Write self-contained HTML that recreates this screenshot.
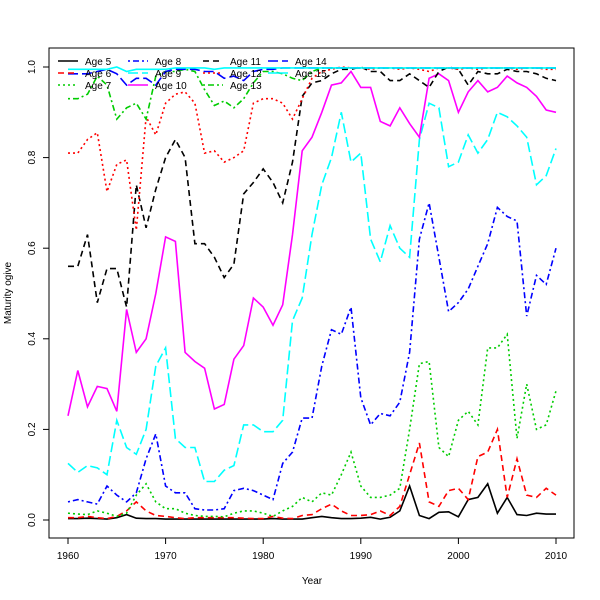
<!DOCTYPE html>
<html><head><meta charset="utf-8"><style>
body{margin:0;background:#fff}
svg{display:block;font-family:"Liberation Sans",sans-serif}
</style></head><body>
<svg id="chart" width="600" height="600">
<rect width="600" height="600" fill="#fff"/>
<g id="grid"></g>
<g id="series"></g>
<rect x="49" y="48" width="525" height="490" fill="none" stroke="#000"/>
<g id="axes"></g>
<g id="legend"></g>
<text x="312" y="584" font-size="10" text-anchor="middle">Year</text>
<text x="11" y="293" font-size="10" text-anchor="middle" transform="rotate(-90 11 293)">Maturity ogive</text>
</svg>
<script>
const years = [];
for (let y = 1960; y <= 2010; y++) years.push(y);
const xTicks = [1960,1970,1980,1990,2000,2010];
const yTicks = [0,0.2,0.4,0.6,0.8,1.0];
const yTickLabels = ["0.0","0.2","0.4","0.6","0.8","1.0"];
const seriesNames = ["Age 5","Age 6","Age 7","Age 8","Age 9","Age 10","Age 11","Age 12","Age 13","Age 14","Age 15"];
const age5 = [.003,.003,.004,.003,.002,.005,.012,.004,.003,.003,.002,.002,.002,.002,.002,.002,.002,.002,.002,.002,.002,.003,.002,.002,.002,.005,.008,.005,.003,.003,.004,.006,.002,.006,.02,.075,.01,.003,.017,.018,.007,.045,.05,.08,.015,.05,.012,.01,.015,.013,.013];
const age6 = [.005,.005,.008,.005,.003,.008,.02,.04,.02,.01,.008,.005,.003,.005,.005,.005,.005,.005,.004,.003,.003,.008,.004,.003,.01,.012,.025,.035,.02,.01,.01,.012,.02,.01,.03,.1,.17,.04,.03,.065,.07,.045,.14,.15,.2,.05,.135,.055,.05,.07,.055];
const age7 = [.015,.013,.012,.02,.015,.008,.015,.055,.08,.04,.025,.025,.015,.01,.008,.008,.007,.015,.02,.02,.015,.008,.02,.03,.05,.04,.06,.055,.1,.15,.075,.05,.05,.055,.07,.2,.345,.35,.16,.14,.22,.24,.21,.38,.38,.41,.18,.3,.2,.21,.285];
const age8 = [.04,.045,.04,.035,.075,.055,.04,.06,.135,.19,.075,.06,.06,.025,.022,.022,.025,.065,.07,.065,.055,.045,.125,.15,.225,.225,.34,.42,.41,.47,.27,.21,.235,.23,.26,.37,.62,.7,.58,.46,.48,.51,.56,.61,.69,.67,.66,.45,.54,.52,.6];
const age9 = [.125,.105,.12,.115,.1,.22,.16,.145,.2,.34,.38,.18,.16,.16,.085,.085,.11,.12,.21,.21,.195,.195,.22,.44,.49,.63,.74,.8,.9,.79,.81,.62,.57,.65,.6,.58,.84,.92,.91,.78,.79,.85,.81,.84,.9,.89,.87,.845,.74,.76,.82];
const age10 = [.23,.33,.25,.295,.29,.24,.465,.37,.4,.5,.625,.615,.37,.35,.335,.245,.255,.355,.385,.49,.47,.43,.475,.63,.815,.845,.9,.96,.965,.99,.955,.955,.88,.87,.91,.875,.845,.975,.985,.97,.9,.945,.97,.945,.955,.98,.965,.955,.935,.905,.9];
const age11 = [.56,.56,.63,.48,.555,.555,.47,.74,.645,.73,.8,.84,.8,.61,.61,.58,.535,.565,.72,.745,.775,.745,.7,.79,.935,.965,.97,.985,.995,.995,1,.99,.99,.97,.97,.985,.97,.955,.99,1,.995,.96,.99,.985,.985,.995,.99,.99,.985,.975,.97];
const age12 = [.81,.81,.84,.855,.725,.785,.795,.64,.89,.85,.92,.94,.945,.92,.81,.815,.79,.8,.815,.92,.93,.93,.92,.885,.93,.975,.99,.995,1,.998,.998,.995,.998,.998,.995,.998,.995,.99,.998,.998,.995,.998,.995,.998,.998,.998,.995,.998,.998,.995,.995];
const age13 = [.93,.93,.94,.98,.96,.885,.91,.92,.885,.98,.99,.99,.995,.99,.95,.915,.925,.91,.93,.965,.99,.99,.985,.975,.97,.99,.998,.998,.998,.998,.998,.998,.998,.998,.998,.998,.998,.998,.998,.998,.998,.998,.998,.998,.998,.998,.998,.998,.998,.998,.998];
const age14 = [.985,.985,.985,.99,.995,.985,.96,.975,.975,.96,.99,.995,.995,.995,.99,.99,.975,.98,.97,.99,.995,.995,.998,.998,.998,.998,.998,.998,.998,.998,.998,.998,.998,.998,.998,.998,.998,.998,.998,.998,.998,.998,.998,.998,.998,.998,.998,.998,.998,.998,.998];
const age15 = [.995,.995,.995,.995,.995,1,.99,.995,.995,.995,.995,.998,.998,.998,.998,.995,.998,.998,.998,.998,.998,.998,.998,.998,.998,.998,.998,.998,.998,.998,.998,.998,.998,.998,.998,.998,.998,.998,.998,.998,.998,.998,.998,.998,.998,.998,.998,.998,.998,.998,.998];
const allSeries = [age5,age6,age7,age8,age9,age10,age11,age12,age13,age14,age15];
const colors = ["#000","#f00","#0c0","#00f","#0ff","#f0f","#000","#f00","#0c0","#00f","#0ff"];
const dashes = ["none","6,4","2,3","2,3,6,3","10,4","none","6,4","2,3","2,3,6,3","10,4","none"];

const NS = "http://www.w3.org/2000/svg";
const xS = v => 68 + (v - 1960) * (488 / 50);
const yS = v => 520 - v * 453;

const sg = document.getElementById('series');
allSeries.forEach((s, i) => {
  const p = document.createElementNS(NS, 'polyline');
  p.setAttribute('points', s.map((v, j) => xS(years[j]).toFixed(1) + ',' + yS(v).toFixed(1)).join(' '));
  p.setAttribute('fill', 'none');
  p.setAttribute('stroke', colors[i]);
  p.setAttribute('stroke-width', '1.6');
  if (dashes[i] !== 'none') p.setAttribute('stroke-dasharray', dashes[i]);
  
  
  sg.appendChild(p);
});

const ax = document.getElementById('axes');
xTicks.forEach(t => {
  const l = document.createElementNS(NS, 'line');
  l.setAttribute('x1', xS(t)); l.setAttribute('x2', xS(t));
  l.setAttribute('y1', 538); l.setAttribute('y2', 544);
  l.setAttribute('stroke', '#000');
  
  
  ax.appendChild(l);
  const tx = document.createElementNS(NS, 'text');
  tx.setAttribute('x', xS(t)); tx.setAttribute('y', 559);
  tx.setAttribute('font-size', '10'); tx.setAttribute('text-anchor', 'middle');
  tx.textContent = t;
  
  
  ax.appendChild(tx);
});
yTicks.forEach((t, i) => {
  const l = document.createElementNS(NS, 'line');
  l.setAttribute('x1', 43); l.setAttribute('x2', 49);
  l.setAttribute('y1', yS(t)); l.setAttribute('y2', yS(t));
  l.setAttribute('stroke', '#000');
  
  
  ax.appendChild(l);
  const tx = document.createElementNS(NS, 'text');
  const yy = yS(t);
  tx.setAttribute('x', 35); tx.setAttribute('y', yy);
  tx.setAttribute('font-size', '10'); tx.setAttribute('text-anchor', 'middle');
  tx.setAttribute('transform', 'rotate(-90 35 ' + yy + ')');
  tx.textContent = yTickLabels[i];
  
  
  ax.appendChild(tx);
});

const lg = document.getElementById('legend');
const colX = [58, 128, 203, 268];
const rowY = [61, 73, 85];
seriesNames.forEach((n, i) => {
  const c = Math.floor(i / 3), r = i % 3;
  const l = document.createElementNS(NS, 'line');
  l.setAttribute('x1', colX[c]); l.setAttribute('x2', colX[c] + 20);
  l.setAttribute('y1', rowY[r]); l.setAttribute('y2', rowY[r]);
  l.setAttribute('stroke', colors[i]); l.setAttribute('stroke-width', '1.6');
  if (dashes[i] !== 'none') l.setAttribute('stroke-dasharray', dashes[i]);
  
  
  lg.appendChild(l);
  const tx = document.createElementNS(NS, 'text');
  tx.setAttribute('x', colX[c] + 27); tx.setAttribute('y', rowY[r] + 4);
  tx.setAttribute('font-size', '10');
  tx.textContent = n;
  
  
  lg.appendChild(tx);
});
</script>
</body></html>
